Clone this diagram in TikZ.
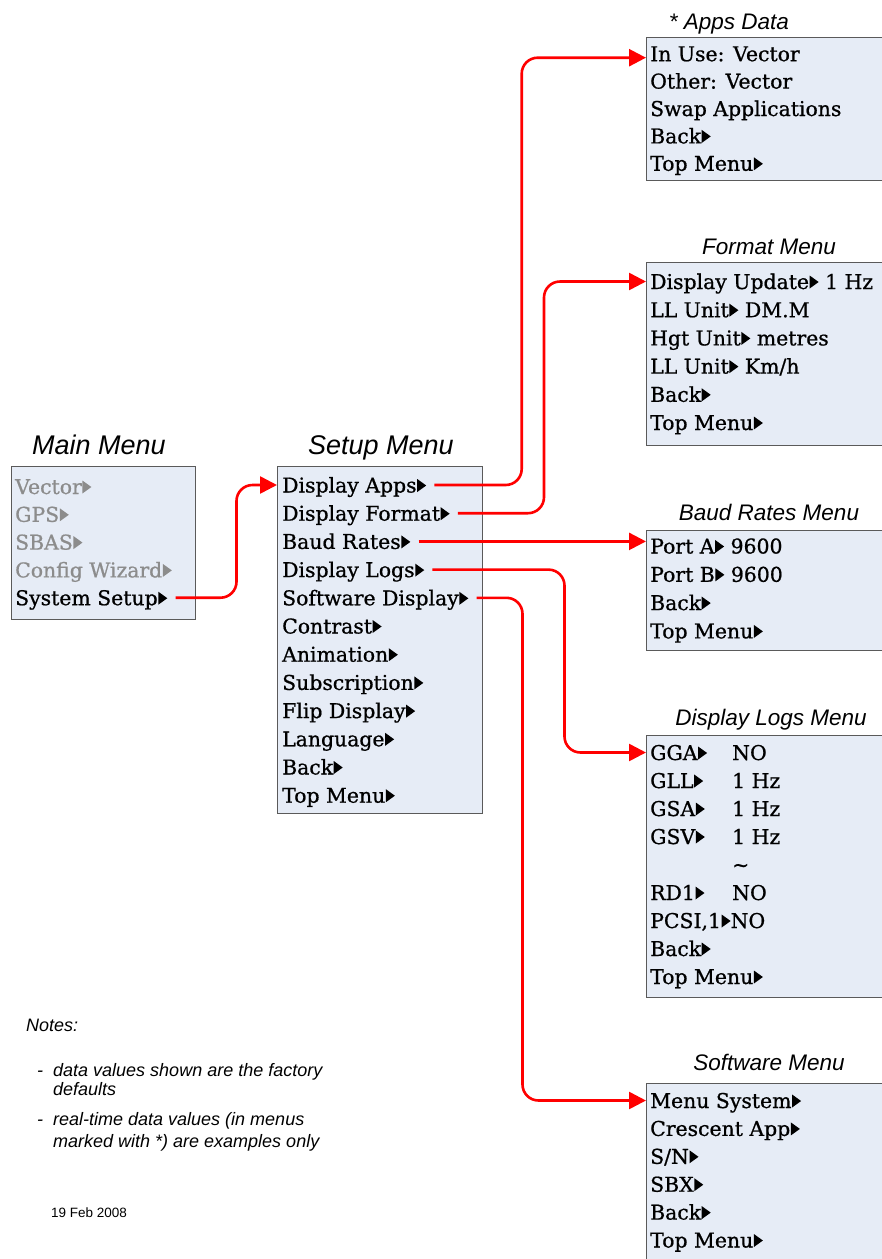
\documentclass[tikz,border=0pt]{standalone}
\usepackage{fontspec}
\setmainfont{DejaVu Serif}
\newfontfamily\itemfont{DejaVu Serif}[RawFeature={embolden=0.8}]
\newfontfamily\titlefont{Liberation Sans}
\usetikzlibrary{arrows.meta}
\definecolor{boxfill}{HTML}{E6ECF6}
\definecolor{boxline}{HTML}{5A5A5A}
\definecolor{greytext}{HTML}{8C8C8C}
\definecolor{arrowred}{HTML}{FF0000}
\newcommand{\tri}[1][black]{\kern0.6pt\tikz[baseline=0pt]\fill[#1] (0pt,0.5pt) -- (0pt,13.5pt) -- (9pt,7pt) -- cycle;}
\begin{document}
\begin{tikzpicture}[x=1pt,y=-1pt,
  box/.style={draw=boxline, fill=boxfill, line width=1pt, inner sep=0pt, outer sep=0pt, anchor=north west},
  item/.style={inner sep=0pt, anchor=west, text height=15pt, text depth=0pt, font=\itemfont\fontsize{20.4}{24}\selectfont},
  gitem/.style={item, text=greytext},
  bigtitle/.style={inner sep=0pt, anchor=base, font=\titlefont\itshape\fontsize{27}{30}\selectfont},
  menutitle/.style={inner sep=0pt, anchor=base, font=\titlefont\itshape\fontsize{22.5}{26}\selectfont},
  note/.style={inner sep=0pt, anchor=base west, font=\titlefont\itshape\fontsize{18}{21}\selectfont},
  conn/.style={draw=arrowred, line width=2.6pt, rounded corners=16pt, -{Triangle[length=17pt,width=17pt]}}
]
\useasboundingbox (0,0) rectangle (882,1259);
\clip (0,0) rectangle (882,1259);
\fill[white] (0,0) rectangle (882,1259);

% ---------- Main menu ----------
\node[bigtitle] (maint) at (99,454.7) {Main Menu};
\node[box, minimum width=184pt, minimum height=153pt] (mainbox) at (11,466) {};
\node[gitem] (m1) at (15,486.5) {Vector\tri[greytext]};
\node[gitem] (m2) at (15,514.3) {GPS\tri[greytext]};
\node[gitem] (m3) at (15,542.1) {SBAS\tri[greytext]};
\node[gitem] (m4) at (15,569.9) {Config Wizard\tri[greytext]};
\node[item] (m5) at (15,597.7) {System Setup\tri};

% ---------- Setup menu ----------
\node[bigtitle] (setupt) at (381,454.7) {Setup Menu};
\node[box, minimum width=205pt, minimum height=347pt] (setup) at (277,466) {};
\foreach \t [count=\i] in {Display Apps,Display Format,Baud Rates,Display Logs,Software Display,Contrast,Animation,Subscription,Flip Display,Language,Back,Top Menu}
  \node[item] (s\i) at (282,{485+28.2*(\i-1)}) {\t\tri};

% ---------- Apps Data ----------
\node[menutitle] (appst) at (729,29.5) {* Apps Data};
\node[box, minimum width=300pt, minimum height=143pt] (apps) at (646,37) {};
\node[item] (a1) at (650,53.7) {In Use: Vector};
\node[item] (a2) at (650,81.1) {Other: Vector};
\node[item] (a3) at (650,108.5) {Swap Applications};
\node[item] (a4) at (650,135.9) {Back\tri};
\node[item] (a5) at (650,163.3) {Top Menu\tri};

% ---------- Format Menu ----------
\node[menutitle] (formatt) at (769,254) {Format Menu};
\node[box, minimum width=300pt, minimum height=183pt] (format) at (646,262) {};
\node[item] (f1) at (650,281.5) {Display Update\tri{} 1 Hz};
\node[item] (f2) at (650,309.7) {LL Unit\tri{} DM.M};
\node[item] (f3) at (650,337.9) {Hgt Unit\tri{} metres};
\node[item] (f4) at (650,366.1) {LL Unit\tri{} Km/h};
\node[item] (f5) at (650,394.3) {Back\tri};
\node[item] (f6) at (650,422.5) {Top Menu\tri};

% ---------- Baud Rates Menu ----------
\node[menutitle] (baudt) at (769,520) {Baud Rates Menu};
\node[box, minimum width=300pt, minimum height=120pt] (baud) at (646,530) {};
\node[item] (b1) at (650,546) {Port A\tri{} 9600};
\node[item] (b2) at (650,574.3) {Port B\tri{} 9600};
\node[item] (b3) at (650,602.6) {Back\tri};
\node[item] (b4) at (650,630.9) {Top Menu\tri};

% ---------- Display Logs Menu ----------
\node[menutitle] (logst) at (771,725) {Display Logs Menu};
\node[box, minimum width=300pt, minimum height=262pt] (logs) at (646,735) {};
\node[item] (l1) at (650,752.5) {GGA\tri};
\node[item] (l1v) at (732,752.5) {NO};
\node[item] (l2) at (650,780.5) {GLL\tri};
\node[item] (l2v) at (732,780.5) {1 Hz};
\node[item] (l3) at (650,808.5) {GSA\tri};
\node[item] (l3v) at (732,808.5) {1 Hz};
\node[item] (l4) at (650,836.5) {GSV\tri};
\node[item] (l4v) at (732,836.5) {1 Hz};
\node[item] (l5) at (732,864.5) {\textasciitilde};
\node[item] (l6) at (650,892.5) {RD1\tri};
\node[item] (l6v) at (732,892.5) {NO};
\node[item] (l7) at (650,920.5) {PCSI,1\tri NO};
\node[item] (l8) at (650,948.5) {Back\tri};
\node[item] (l9) at (650,976.5) {Top Menu\tri};

% ---------- Software Menu ----------
\node[menutitle] (swt) at (769,1070.5) {Software Menu};
\node[box, minimum width=300pt, minimum height=250pt] (sw) at (646,1083) {};
\node[item] (w1) at (650,1100.5) {Menu System\tri};
\node[item] (w2) at (650,1128.4) {Crescent App\tri};
\node[item] (w3) at (650,1156.3) {S/N\tri};
\node[item] (w4) at (650,1184.2) {SBX\tri};
\node[item] (w5) at (650,1212.1) {Back\tri};
\node[item] (w6) at (650,1240) {Top Menu\tri};

% ---------- Notes ----------
\node[note] (notes) at (26,1031) {Notes:};
\node[note] (d1) at (37,1076) {-};
\node[note] (n1) at (53,1076) {data values shown are the factory};
\node[note] (n2) at (53,1095) {defaults};
\node[note] (d2) at (37,1125) {-};
\node[note] (n3) at (53,1125) {real-time data values (in menus};
\node[note] (n4) at (53,1147) {marked with *) are examples only};
\node[inner sep=0pt, anchor=base west, font=\titlefont\fontsize{13.5}{16}\selectfont] (date) at (51,1217) {19 Feb 2008};

% ---------- Connectors ----------
\coordinate (v0) at (236.5,0);
\coordinate (v1) at (521.7,0);
\coordinate (v2) at (544,0);
\coordinate (v3) at (564.5,0);
\coordinate (v4) at (522.5,0);
\draw[conn] ([xshift=8pt]m5.east) -- (m5.east -| v0) -- (s1.west -| v0) -- (s1.west -| setup.west);
\draw[conn] ([xshift=8pt]s1.east) -- (s1.east -| v1) -- ([yshift=-4pt]a1.west -| v1) -- ([yshift=-4pt]a1.west -| apps.west);
\draw[conn] ([xshift=8pt]s2.east) -- (s2.east -| v2) -- (f1.west -| v2) -- (f1.west -| format.west);
\draw[conn] ([xshift=8pt]s3.east) -- (s3.east -| baud.west);
\draw[conn] ([xshift=8pt]s4.east) -- (s4.east -| v3) -- (l1.west -| v3) -- (l1.west -| logs.west);
\draw[conn] ([xshift=8pt]s5.east) -- (s5.east -| v4) -- (w1.west -| v4) -- (w1.west -| sw.west);
\end{tikzpicture}
\end{document}
